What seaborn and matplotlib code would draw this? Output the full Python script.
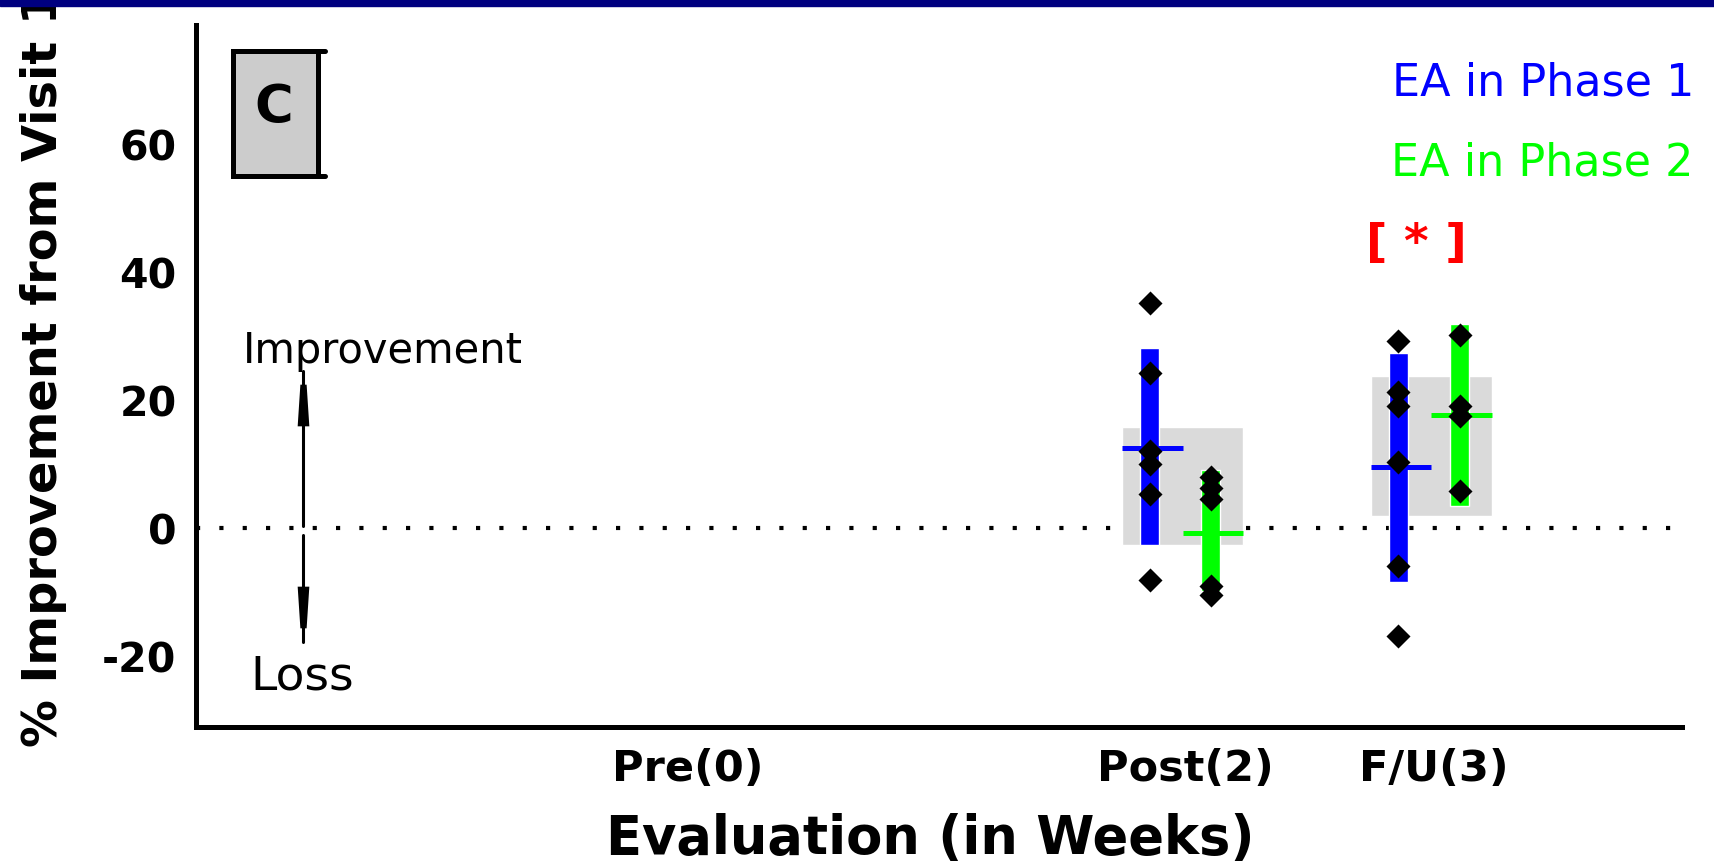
import matplotlib
matplotlib.use('Agg')
import matplotlib.pyplot as plt
import seaborn as sns
import pandas as pd
from matplotlib.patches import Rectangle
from matplotlib.lines import Line2D

W, H = 1715, 862

# evaluation weeks with data, and the axis ticks
weeks = [2, 3]
tick_pos = [-1, 0, 1, 2, 3, 4]
tick_labels = ['', 'Pre(0)', '', 'Post(2)', 'F/U(3)', '']
ytick_pos = [-20, 0, 20, 40, 60]

# individual subjects (% improvement from visit 1)
blue_post = [35.1, 24.2, 12.1, 10.0, 5.4, -8.1]
green_post = [8.0, 6.3, 4.5, -9.1, -10.5]
blue_fu = [29.3, 21.2, 19.0, 10.3, -5.9, -16.8]
green_fu = [30.1, 19.1, 17.5, 5.8]

# group summaries (Post, F/U)
blue_mean = [12.5, 9.5]
blue_lo = [-2.6, -8.4]
blue_hi = [28.1, 27.3]
green_mean = [-0.8, 17.6]
green_lo = [-9.8, 3.4]
green_hi = [9.1, 31.9]
box_lo = [-2.6, 1.9]
box_hi = [15.8, 23.75]

BLUE = '#0000ff'
GREEN = '#00ff00'
blue_off, green_off = -0.143, 0.103
box_left, box_right, split = -0.255, 0.233, -0.01


def fx(px):
    return px / W


def fy(py):
    return 1 - py / H


sns.set_style('white')
plt.rcParams['font.family'] = ['DejaVu Sans']
plt.rcParams['text.color'] = 'black'
plt.rcParams['xtick.color'] = 'black'
plt.rcParams['ytick.color'] = 'black'
plt.rcParams['axes.unicode_minus'] = False

fig = plt.figure(figsize=(W / 100, H / 100), dpi=100)
ax = fig.add_axes([fx(196), fy(727.5), (1682.5 - 196) / W, (727.5 - 26) / H])

rows = []
for wk, vals in zip(weeks, [blue_post, blue_fu]):
    for v in vals:
        rows.append({'x': wk + blue_off, 'y': v})
for wk, vals in zip(weeks, [green_post, green_fu]):
    for v in vals:
        rows.append({'x': wk + green_off, 'y': v})
pts = pd.DataFrame(rows)

ax.axhline(0, color='black', lw=3, linestyle=(0, (1, 4.6)), zorder=0.5)

box_w = box_right - box_left
ax.bar([w + box_left for w in weeks], [h - l for h, l in zip(box_hi, box_lo)], bottom=box_lo,
       width=box_w, align='edge', color='#dadada', zorder=1)
ax.bar([w + blue_off for w in weeks], [h - l for h, l in zip(blue_hi, blue_lo)], bottom=blue_lo,
       width=0.0764, color=BLUE, zorder=2)
ax.bar([w + green_off for w in weeks], [h - l for h, l in zip(green_hi, green_lo)], bottom=green_lo,
       width=0.0764, color=GREEN, zorder=2)
ax.hlines(blue_mean, [w + box_left for w in weeks], [w + split for w in weeks], color=BLUE, lw=3.6, zorder=3)
ax.hlines(green_mean, [w + split for w in weeks], [w + box_right for w in weeks], color=GREEN, lw=3.6, zorder=3)

sns.scatterplot(data=pts, x='x', y='y', marker='D', s=150, color='black', linewidth=0,
                ax=ax, zorder=4, legend=False)

# improvement / loss arrows
arr_x = -1.548
ax.plot([arr_x, arr_x], [0.3, 24.6], color='black', lw=2.2)
ax.plot([arr_x, arr_x], [-1.1, -17.8], color='black', lw=2.2)
up_head = [(-0.28, -1), (-0.15, 1), (0.15, 1), (0.28, -1)]
dn_head = [(-0.28, 1), (-0.15, -1), (0.15, -1), (0.28, 1)]
ax.plot([arr_x], [19.2], marker=up_head, ms=30, color='black', mew=0)
ax.plot([arr_x], [-12.4], marker=dn_head, ms=30, color='black', mew=0)

ax.text(2.93, 44.4, '[ * ]', color='#ff0000', fontsize=34, fontweight='bold', ha='center', va='center')

ax.set_xlim(-1.98, 4)
ax.set_ylim(-31.0, 78.6)
ax.set_xticks(tick_pos)
ax.set_xticklabels(tick_labels)
ax.set_yticks(ytick_pos)
ax.set_xlabel('')
ax.set_ylabel('')
ax.tick_params(axis='x', direction='in', length=15, width=2.9, pad=15, labelsize=31)
ax.tick_params(axis='y', direction='in', length=9.5, width=2.9, pad=14, labelsize=29.5)
for lab in ax.get_xticklabels() + ax.get_yticklabels():
    lab.set_fontweight('bold')
for side in ['top', 'right']:
    ax.spines[side].set_visible(False)
for side in ['left', 'bottom']:
    ax.spines[side].set_linewidth(3.6)
    ax.spines[side].set_color('black')

# figure decorations
fig.patches.append(Rectangle((0, fy(7)), 1, 7 / H, transform=fig.transFigure, color='#000080', zorder=5))
fig.patches.append(Rectangle((fx(233.5), fy(177)), (317.5 - 233.5) / W, (177 - 51.7) / H,
                             transform=fig.transFigure, facecolor='#cccccc', edgecolor='black', lw=3.6))
for yy in [51.7, 177]:
    fig.lines.append(Line2D([fx(317.5), fx(325)], [fy(yy), fy(yy)], transform=fig.transFigure,
                            color='black', lw=3.6))
fig.text(fx(274), fy(108), 'C', fontsize=38, fontweight='bold', ha='center', va='center')

fig.text(fx(1694), fy(95.7), 'EA in Phase 1', color=BLUE, fontsize=32, ha='right', va='baseline')
fig.text(fx(1694), fy(175.7), 'EA in Phase 2', color=GREEN, fontsize=32, ha='right', va='baseline')
fig.text(fx(243), fy(362.7), 'Improvement', fontsize=30, ha='left', va='baseline')
fig.text(fx(250), fy(690), 'Loss', fontsize=34, ha='left', va='baseline')

fig.text(fx(57), fy(746.7), '% Improvement from Visit 1', fontsize=34.5, fontweight='bold',
         rotation=90, rotation_mode='anchor', ha='left', va='baseline')
fig.text(fx(606), fy(854), 'Evaluation (in Weeks)', fontsize=38, fontweight='bold',
         ha='left', va='baseline')

fig.savefig('out.png', dpi=100)
